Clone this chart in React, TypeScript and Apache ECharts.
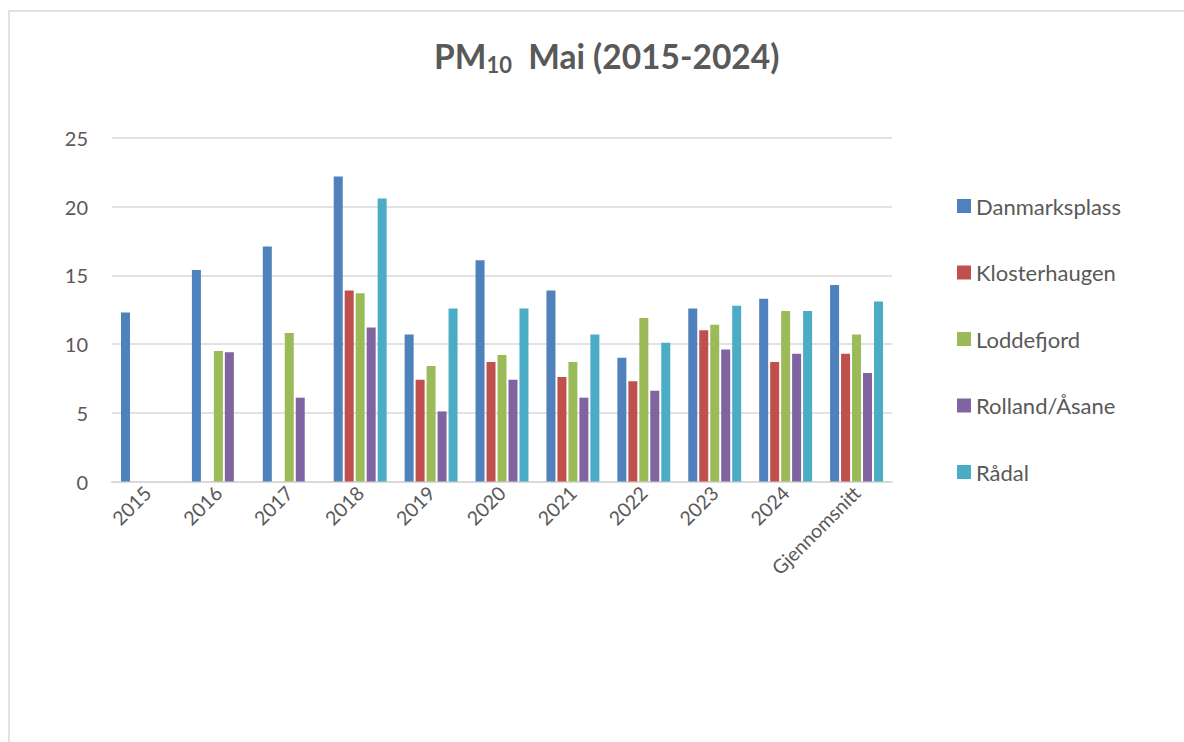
import React, { useEffect, useRef } from "react";
import * as echarts from "echarts";

const categories = ["2015", "2016", "2017", "2018", "2019", "2020", "2021", "2022", "2023", "2024", "Gjennomsnitt"];
const danmarksplass = [12.3, 15.4, 17.1, 22.2, 10.7, 16.1, 13.9, 9.0, 12.6, 13.3, 14.3];
const klosterhaugen = [null, null, null, 13.9, 7.4, 8.7, 7.6, 7.3, 11.0, 8.7, 9.3];
const loddefjord = [null, 9.5, 10.8, 13.7, 8.4, 9.2, 8.7, 11.9, 11.4, 12.4, 10.7];
const rollandAasane = [null, 9.4, 6.1, 11.2, 5.1, 7.4, 6.1, 6.6, 9.6, 9.3, 7.9];
const raadal = [null, null, null, 20.6, 12.6, 12.6, 10.7, 10.1, 12.8, 12.4, 13.1];

const seriesDefs = [
  { name: "Danmarksplass", data: danmarksplass, color: "#4f81bd" },
  { name: "Klosterhaugen", data: klosterhaugen, color: "#c0504d" },
  { name: "Loddefjord", data: loddefjord, color: "#9bbb59" },
  { name: "Rolland/Åsane", data: rollandAasane, color: "#8064a2" },
  { name: "Rådal", data: raadal, color: "#4bacc6" },
];

const FONT = "Lato, 'Open Sans', sans-serif";

export default function App() {
  const ref = useRef<HTMLDivElement>(null);
  useEffect(() => {
    if (!ref.current) return;
    const chart = echarts.init(ref.current, null, { renderer: "svg" });
    chart.setOption({
      animation: false,
      backgroundColor: "#ffffff",
      title: {
        text: "{a|PM}{s|10}{a|  Mai (2015-2024)}",
        left: 429,
        top: 31,
        textStyle: {
          rich: {
            a: { fontFamily: FONT, fontSize: 33.5, fontWeight: "bold", color: "#595959", lineHeight: 40 },
            s: { fontFamily: FONT, fontSize: 22, fontWeight: "bold", color: "#595959", lineHeight: 40, padding: [16, 0, 0, 0] },
          },
        },
      },
      graphic: [
        {
          type: "rect",
          shape: { x: 9, y: 11, width: 1300, height: 900 },
          style: { fill: "none", stroke: "#d9d9d9", lineWidth: 1.5 },
          silent: true,
        },
      ],
      legend: {
        orient: "vertical",
        left: 952,
        top: 190,
        itemWidth: 14,
        itemHeight: 14,
        itemGap: 44.5,
        icon: "rect",
        textStyle: { fontFamily: FONT, fontSize: 22, color: "#595959", lineHeight: 22 },
        data: seriesDefs.map((s) => s.name),
      },
      grid: { left: 112, right: 292, top: 138, bottom: 260.5 },
      xAxis: {
        type: "category",
        data: categories,
        axisLine: { lineStyle: { color: "#d9d9d9", width: 2 } },
        axisTick: { show: false },
        axisLabel: { rotate: 45, fontFamily: FONT, fontSize: 19.5, color: "#595959", margin: 8, interval: 0 },
      },
      yAxis: {
        type: "value",
        min: 0,
        max: 25,
        interval: 5,
        axisLine: { show: false },
        axisTick: { show: false },
        axisLabel: { fontFamily: FONT, fontSize: 20, color: "#595959", margin: 24 },
        splitLine: { lineStyle: { color: "#d9d9d9", width: 1.5 } },
      },
      series: seriesDefs.map((s) => ({
        name: s.name,
        type: "bar",
        data: s.data,
        barWidth: 9,
        barGap: "22%",
        itemStyle: { color: s.color },
      })),
    });
    return () => chart.dispose();
  }, []);
  return (
    <div
      ref={ref}
      style={{ position: "absolute", left: 0, top: 0, width: 1184, height: 742 }}
    />
  );
}
